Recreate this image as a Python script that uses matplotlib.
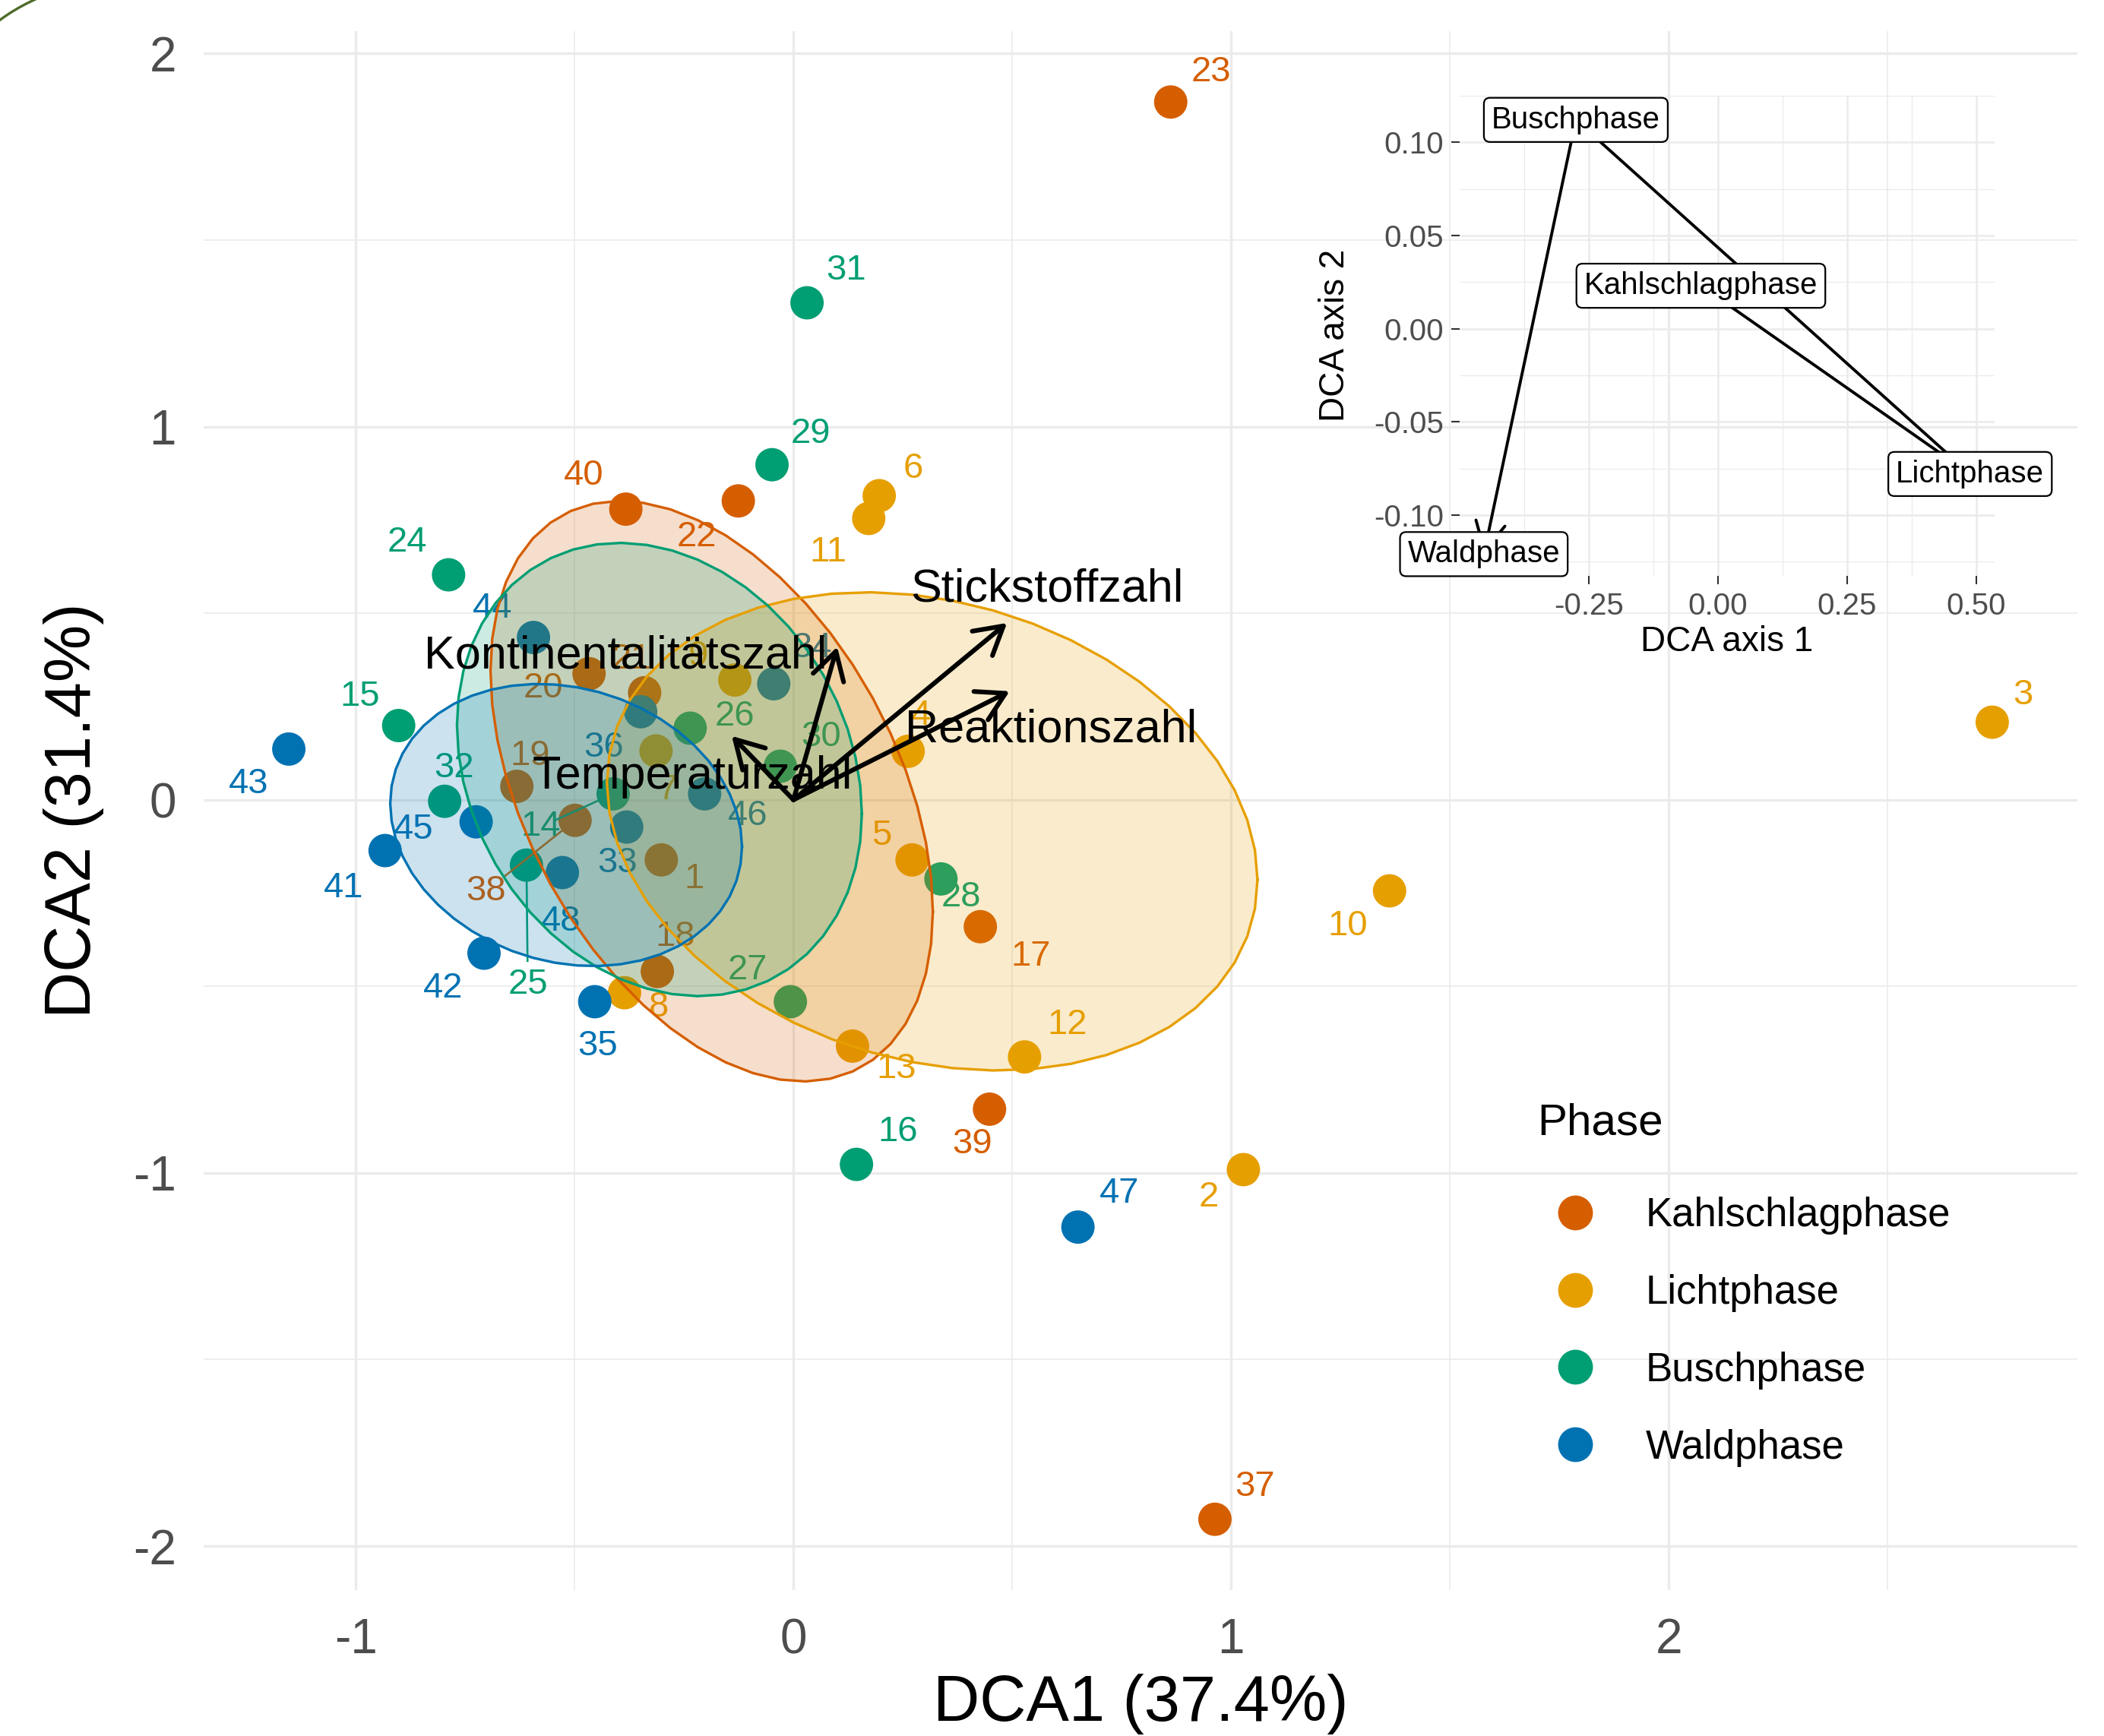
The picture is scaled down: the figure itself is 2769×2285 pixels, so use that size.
import numpy as np
import matplotlib.pyplot as plt
from matplotlib.lines import Line2D
from matplotlib.patches import Polygon, Arc

plt.rcParams['font.family'] = ['Liberation Sans', 'DejaVu Sans']
plt.rcParams['axes.unicode_minus'] = False

phases = ['Kahlschlagphase', 'Lichtphase', 'Buschphase', 'Waldphase']
phase_colors = ['#D55E00', '#E69F00', '#009E73', '#0072B2']

# sample scores (sample 1..48)
sample_id = np.arange(1, 49)
sample_phase = ['Kahlschlagphase'] + ['Lichtphase'] * 12 + ['Buschphase'] * 3 + \
    ['Kahlschlagphase'] * 7 + ['Buschphase'] * 9 + ['Waldphase'] * 4 + \
    ['Kahlschlagphase'] * 4 + ['Waldphase'] * 8
dca1 = np.array([-0.302, 1.028, 2.739, 0.262, 0.271, 0.196, -0.314, -0.386, -0.134, 1.362,
                 0.172, 0.528, 0.135, -0.412, -0.902, 0.144, 0.427, -0.311, -0.632, -0.467,
                 -0.340, -0.126, 0.862, -0.788, -0.610, -0.236, -0.007, 0.337, -0.049, -0.030,
                 0.031, -0.797, -0.381, -0.045, -0.454, -0.349, 0.963, -0.499, 0.448, -0.383,
                 -0.933, -0.707, -1.153, -0.594, -0.725, -0.203, 0.650, -0.528])
dca2 = np.array([-0.161, -0.991, 0.208, 0.130, -0.161, 0.815, 0.131, -0.517, 0.321, -0.244,
                 0.754, -0.689, -0.660, 0.016, 0.199, -0.977, -0.340, -0.460, 0.036, 0.338,
                 0.287, 0.801, 1.870, 0.603, -0.175, 0.192, -0.541, -0.212, 0.898, 0.090,
                 1.332, -0.004, -0.073, 0.311, -0.541, 0.236, -1.928, -0.055, -0.829, 0.779,
                 -0.136, -0.411, 0.136, 0.435, -0.059, 0.016, -1.145, -0.195])

# repelled label offsets (data units)
lab_dx = np.array([0.075, -0.080, 0.071, 0.030, -0.069, 0.077, 0.026, 0.079, -0.084, -0.095,
                   -0.092, 0.098, 0.101, -0.165, -0.089, 0.095, 0.116, 0.041, 0.031, -0.104,
                   -0.031, -0.095, 0.092, -0.095, 0.003, 0.101, -0.097, 0.046, 0.089, 0.094,
                   0.089, 0.021, -0.021, 0.088, 0.006, -0.084, 0.092, -0.203, -0.040, -0.096,
                   -0.095, -0.094, -0.092, -0.093, -0.143, 0.099, 0.095, -0.003])
lab_dy = np.array([-0.051, -0.075, 0.072, 0.096, 0.064, 0.072, -0.106, -0.040, 0.063, -0.094,
                   -0.090, 0.086, -0.061, -0.088, 0.077, 0.087, -0.080, 0.094, 0.082, -0.040,
                   0.090, -0.097, 0.080, 0.086, -0.321, 0.031, 0.085, -0.050, 0.082, 0.079,
                   0.086, 0.090, -0.096, 0.095, -0.120, -0.096, 0.086, -0.189, -0.094, 0.090,
                   -0.101, -0.095, -0.093, 0.078, -0.020, -0.059, 0.089, -0.132])

# fitted environmental vectors
vec_names = ['Stickstoffzahl', 'Reaktionszahl', 'Kontinentalitätszahl', 'Temperaturzahl']
vec_x = [0.488, 0.494, 0.100, -0.141]
vec_y = [0.474, 0.291, 0.410, 0.171]
vec_lab_x = [0.580, 0.589, -0.383, -0.230]
vec_lab_y = [0.564, 0.187, 0.384, 0.061]

# inset: phase centroids, succession order
path_phases = ['Kahlschlagphase', 'Lichtphase', 'Buschphase', 'Waldphase']
path_x = [-0.033, 0.488, -0.275, -0.453]
path_y = [0.023, -0.078, 0.112, -0.121]


def t_ellipse(x, y, level=0.5, nu=5, segments=51):
    # same as ggplot2 stat_ellipse(type = "t") via MASS::cov.trob
    data = np.column_stack([x, y])
    n, p = data.shape
    loc = data.mean(0)
    w = np.ones(n)
    for _ in range(25):
        w0 = w
        X = data - loc
        _, d, vt = np.linalg.svd(np.sqrt(w / w.sum())[:, None] * X, full_matrices=False)
        wX = X @ vt.T / d
        Q = (wX ** 2).sum(1)
        w = (nu + p) / (nu + Q)
        loc = (w[:, None] * data).sum(0) / w.sum()
        if np.all(np.abs(w - w0) < 0.01):
            break
    sw = np.sqrt(w)[:, None] * X
    shape = sw.T @ sw / n
    chol = np.linalg.cholesky(shape).T
    dfd = n - 1
    fq = dfd / 2 * ((1 - level) ** (-2 / dfd) - 1)
    radius = np.sqrt(2 * fq)
    ang = np.linspace(0, 2 * np.pi, segments)
    circle = np.column_stack([np.cos(ang), np.sin(ang)])
    return loc + radius * circle @ chol


fig = plt.figure(figsize=(27.69, 22.85), dpi=100)
ax = fig.add_axes([0.09679, 0.08403, 0.89057, 0.89803])

col_of = dict(zip(phases, phase_colors))
cols = [col_of[ph] for ph in sample_phase]

ax.scatter(dca1, dca2, s=1000, c=cols, linewidths=0, zorder=2)
for i in range(len(sample_id)):
    lx, ly = dca1[i] + lab_dx[i], dca2[i] + lab_dy[i]
    if np.hypot(lab_dx[i], lab_dy[i]) > 0.18:
        ax.plot([dca1[i], dca1[i] + 0.8 * lab_dx[i]], [dca2[i], dca2[i] + 0.8 * lab_dy[i]],
                color=cols[i], lw=1.9, zorder=2.4)
    ax.text(lx, ly, str(sample_id[i]), color=cols[i], fontsize=34,
            ha='center', va='center', zorder=2.5)

for ph, c in zip(phases, phase_colors):
    m = np.array([s == ph for s in sample_phase])
    ell = t_ellipse(dca1[m], dca2[m])
    ax.add_patch(Polygon(ell, closed=True, facecolor=c, alpha=0.2, edgecolor='none', zorder=3))
    ax.plot(ell[:, 0], ell[:, 1], color=c, lw=2.4, zorder=3.1)

for name, vx, vy, tx, ty in zip(vec_names, vec_x, vec_y, vec_lab_x, vec_lab_y):
    ax.annotate('', xy=(vx, vy), xytext=(0, 0),
                arrowprops=dict(arrowstyle='->,head_length=2.6,head_width=1.5', mutation_scale=10,
                                lw=4.4, color='black', shrinkA=0, shrinkB=0), zorder=4)
    ax.text(tx, ty, name, fontsize=44, ha='center', va='center', color='black', zorder=4.5)

# limits with 5% expansion like ggplot
xr = dca1.max() - dca1.min()
yr = dca2.max() - dca2.min()
ax.set_xlim(dca1.min() - 0.05 * xr, dca1.max() + 0.05 * xr)
ax.set_ylim(dca2.min() - 0.05 * yr, dca2.max() + 0.05 * yr)

ax.set_xticks([-1, 0, 1, 2])
ax.set_xticks([-0.5, 0.5, 1.5, 2.5], minor=True)
ax.set_yticks([-2, -1, 0, 1, 2])
ax.set_yticks([-1.5, -0.5, 0.5, 1.5], minor=True)
ax.grid(which='major', color='#EBEBEB', lw=2.4)
ax.grid(which='minor', color='#EBEBEB', lw=1.2)
ax.set_axisbelow(True)
for s in ax.spines.values():
    s.set_visible(False)
ax.tick_params(which='both', length=0, labelsize=46, labelcolor='#4D4D4D', pad=26)

ax.set_xlabel('DCA1 (37.4%)', fontsize=61, va='center')
ax.set_ylabel('DCA2 (31.4%)', fontsize=61, va='center')
ax.xaxis.set_label_coords(0.5, -0.0731)
ax.yaxis.set_label_coords(-0.0693, 0.5)

handles = [Line2D([], [], marker='o', linestyle='none', markersize=33,
                  markerfacecolor=c, markeredgewidth=0) for c in phase_colors]
leg = fig.legend(handles, phases, loc='upper left', bbox_to_anchor=(2023 / 2769, 1 - 1452 / 2285),
                 frameon=False, title='Phase', title_fontsize=42, fontsize=38,
                 handlelength=1.9, handletextpad=0.8, labelspacing=0.98,
                 borderpad=0, borderaxespad=0, alignment='left')
leg._legend_box.sep = 50

# inset: centroid trajectory
axi = fig.add_axes([0.6937, 0.6683, 0.2542, 0.2766], facecolor='none')
axi.plot(path_x[:3], path_y[:3], color='black', lw=2.8, zorder=2)
axi.annotate('', xy=(path_x[3], path_y[3]), xytext=(path_x[2], path_y[2]),
             arrowprops=dict(arrowstyle='->,head_length=2.7,head_width=1.4', mutation_scale=10,
                             lw=2.8, color='black', shrinkA=0, shrinkB=0), zorder=2)
for ph, px, py in zip(path_phases, path_x, path_y):
    axi.text(px, py, ph, fontsize=29, ha='center', va='center', zorder=3,
             bbox=dict(boxstyle='round,pad=0.25,rounding_size=0.2', fc='white', ec='black', lw=1.6))
pxr = max(path_x) - min(path_x)
pyr = max(path_y) - min(path_y)
axi.set_xlim(min(path_x) - 0.05 * pxr, max(path_x) + 0.05 * pxr)
axi.set_ylim(min(path_y) - 0.05 * pyr, max(path_y) + 0.05 * pyr)
axi.set_xticks([-0.25, 0.0, 0.25, 0.50])
axi.set_xticklabels(['-0.25', '0.00', '0.25', '0.50'])
axi.set_xticks([-0.375, -0.125, 0.125, 0.375], minor=True)
axi.set_yticks([-0.10, -0.05, 0.0, 0.05, 0.10])
axi.set_yticklabels(['-0.10', '-0.05', '0.00', '0.05', '0.10'])
axi.set_yticks([-0.125, -0.075, -0.025, 0.025, 0.075, 0.125], minor=True)
axi.grid(which='major', color='#EBEBEB', lw=1.8)
axi.grid(which='minor', color='#EBEBEB', lw=0.9)
axi.set_axisbelow(True)
for s in axi.spines.values():
    s.set_visible(False)
axi.tick_params(which='major', length=8, width=1.5, color='#333333', labelsize=29,
                labelcolor='#4D4D4D', pad=7)
axi.tick_params(which='minor', length=0)
axi.set_xlabel('DCA axis 1', fontsize=33, va='center')
axi.set_ylabel('DCA axis 2', fontsize=33, va='center')
axi.xaxis.set_label_coords(0.5, -0.138)
axi.yaxis.set_label_coords(-0.233, 0.5)

# green corner arc of the source image
fig.add_artist(Arc((150 / 2769, 1 - 230 / 2285), 2 * 253 / 2769, 2 * 253 / 2285,
                   theta1=100, theta2=140, transform=fig.transFigure, color='#4E6B2A', lw=2.4))

fig.savefig('out.png', dpi=100)
